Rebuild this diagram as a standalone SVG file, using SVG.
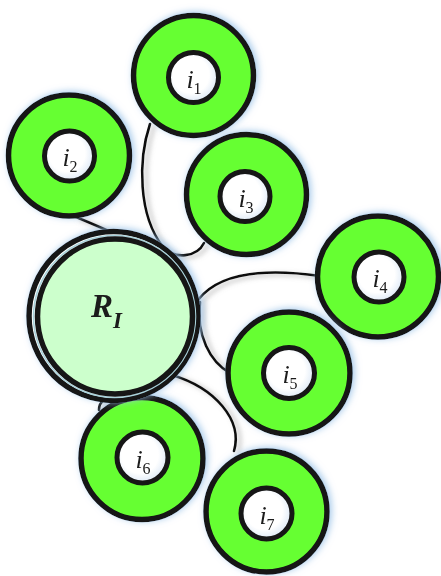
<svg xmlns="http://www.w3.org/2000/svg" width="441" height="576" viewBox="0 0 441 576">
<style>
.conn{fill:none;stroke:#111;stroke-width:2.6;stroke-linecap:round}
.ring{fill:#66ff33;stroke:#141414;stroke-width:5.5}
.hole{fill:url(#holeGrad);stroke:#141414;stroke-width:5}
.lab{font-family:"Liberation Serif","Times New Roman",serif;font-style:italic;font-size:26px;fill:#1a1a1a}
.sub{font-style:normal;font-size:16px}
.rlab{font-family:"Liberation Serif","Times New Roman",serif;font-style:italic;font-weight:bold;font-size:33px;fill:#1a1a1a}
</style>
<defs>
<radialGradient id="holeGrad" cx="0.45" cy="0.45" r="0.6">
<stop offset="0.6" stop-color="#ffffff"/>
<stop offset="1" stop-color="#d6e4f4"/>
</radialGradient>
<filter id="glow" x="-20%" y="-20%" width="140%" height="140%">
<feGaussianBlur in="SourceAlpha" stdDeviation="3.5" result="b"/>
<feOffset in="b" dx="2" dy="-1" result="o"/>
<feFlood flood-color="#9cc3e8" flood-opacity="0.9"/>
<feComposite in2="o" operator="in" result="s"/>
<feMerge><feMergeNode in="s"/><feMergeNode in="SourceGraphic"/></feMerge>
</filter>
<filter id="lshadow" x="-20%" y="-20%" width="140%" height="140%">
<feGaussianBlur in="SourceAlpha" stdDeviation="2.5" result="b"/>
<feOffset in="b" dx="4" dy="2" result="o"/>
<feFlood flood-color="#888" flood-opacity="0.6"/>
<feComposite in2="o" operator="in" result="s"/>
<feMerge><feMergeNode in="s"/><feMergeNode in="SourceGraphic"/></feMerge>
</filter>
</defs>
<rect width="441" height="576" fill="#ffffff"/>
<g id="connectors" filter="url(#lshadow)">
<path class="conn" d="M 76 217 C 88 222 100 227 113 233"/>
<path class="conn" d="M 150 124 C 138 160 138 215 163 247 C 175 260 197 257 204 243"/>
<path class="conn" d="M 198 300 C 215 278 250 266 320 276"/>
<path class="conn" d="M 200 302 C 196 335 210 362 230 373"/>
<path class="conn" d="M 172 375 C 215 388 243 420 234 451"/>
<path class="conn" d="M 99 410 C 99 400 108 396 120 395" stroke="#2a3a50"/>
</g>
<g id="i1" filter="url(#glow)">
<circle class="ring" cx="193.5" cy="75.5" r="60"/>
<circle class="hole" cx="193.5" cy="77.5" r="25"/>
<text class="lab" x="194" y="88" text-anchor="middle">i<tspan class="sub" dy="6">1</tspan></text>
</g>
<g id="i2" filter="url(#glow)">
<circle class="ring" cx="69" cy="155.5" r="60.5"/>
<circle class="hole" cx="69.5" cy="156" r="25"/>
<text class="lab" x="70" y="166" text-anchor="middle">i<tspan class="sub" dy="6">2</tspan></text>
</g>
<g id="i3" filter="url(#glow)">
<circle class="ring" cx="246.5" cy="194.5" r="60"/>
<circle class="hole" cx="245" cy="196.5" r="25"/>
<text class="lab" x="246" y="207" text-anchor="middle">i<tspan class="sub" dy="6">3</tspan></text>
</g>
<g id="i4" filter="url(#glow)">
<circle class="ring" cx="378" cy="276.5" r="60.5"/>
<circle class="hole" cx="379" cy="277" r="25"/>
<text class="lab" x="380" y="287" text-anchor="middle">i<tspan class="sub" dy="6">4</tspan></text>
</g>
<g id="i5" filter="url(#glow)">
<circle class="ring" cx="289" cy="373" r="61"/>
<circle class="hole" cx="289" cy="373" r="25.5"/>
<text class="lab" x="290" y="383" text-anchor="middle">i<tspan class="sub" dy="6">5</tspan></text>
</g>
<g id="i6" filter="url(#glow)">
<circle class="ring" cx="142" cy="458.5" r="61"/>
<circle class="hole" cx="142.5" cy="457.5" r="25.5"/>
<text class="lab" x="143" y="468" text-anchor="middle">i<tspan class="sub" dy="6">6</tspan></text>
</g>
<g id="i7" filter="url(#glow)">
<circle class="ring" cx="266.5" cy="511.5" r="60.5"/>
<circle class="hole" cx="266.5" cy="513.5" r="25.5"/>
<text class="lab" x="267" y="524" text-anchor="middle">i<tspan class="sub" dy="6">7</tspan></text>
</g>
<g id="RI" filter="url(#glow)">
<circle cx="113.5" cy="316" r="84.5" fill="#ffffff" stroke="#141414" stroke-width="5.5"/>
<circle cx="114.5" cy="316.5" r="81" fill="none" stroke="#a9d3dc" stroke-width="1.6"/>
<circle cx="115" cy="316.5" r="77.5" fill="#ccffcc" stroke="#141414" stroke-width="5.5"/>
<text class="rlab" x="91" y="317">R<tspan font-size="23" dy="11">I</tspan></text>
</g>
</svg>
